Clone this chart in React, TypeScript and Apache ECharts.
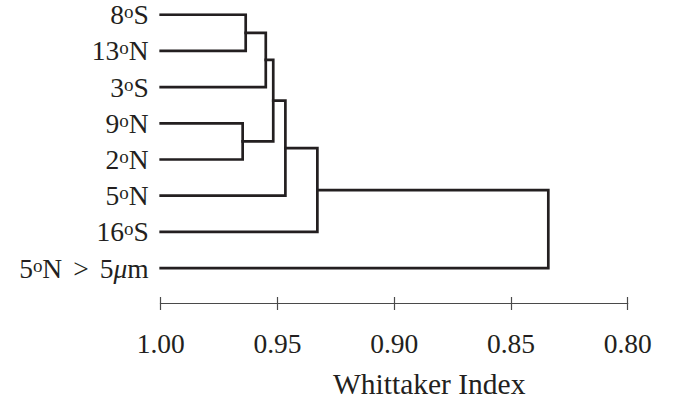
import React, { useEffect, useRef } from "react";
import * as echarts from "echarts";

// Leaves (top to bottom), rich-text labels
const leafLabels = [
  "8{o|o}S",
  "13{o|o}N",
  "3{o|o}S",
  "9{o|o}N",
  "2{o|o}N",
  "5{o|o}N",
  "16{o|o}S",
  "5{o|o}N{gt|>}5{mu|μ}m",
];

// Merges: node ids 0-7 are leaves, merge k becomes node 8+k
const mergeLeft = [0, 8, 3, 9, 11, 12, 13];
const mergeRight = [1, 2, 4, 10, 5, 6, 7];
const mergeHeight = [0.9636, 0.955, 0.9649, 0.9518, 0.9466, 0.9329, 0.834];

const xTicks = [0.8, 0.85, 0.9, 0.95, 1.0];

const ink = "#231f20";
const font = "'Liberation Serif', 'Times New Roman', serif";

export default function App() {
  const ref = useRef<HTMLDivElement>(null);

  useEffect(() => {
    if (!ref.current) return;
    const chart = echarts.init(ref.current, undefined, { renderer: "svg" });

    const nodeY: number[] = leafLabels.map((_, i) => i);
    const nodeH: number[] = leafLabels.map(() => 1.0);
    const series: any[] = [];
    mergeLeft.forEach((l, k) => {
      const r = mergeRight[k];
      const h = mergeHeight[k];
      const yl = nodeY[l];
      const yr = nodeY[r];
      series.push({
        type: "line",
        data: [
          [nodeH[l], yl],
          [h, yl],
          [h, yr],
          [nodeH[r], yr],
        ],
        symbol: "none",
        silent: true,
        lineStyle: { color: ink, width: 2.7, join: "miter", cap: "square" },
      });
      nodeY.push((yl + yr) / 2);
      nodeH.push(h);
    });

    const gridTop = 14.7;
    const axisY = 304;
    const axisColor = "#4a4a4a";

    const baseX = {
      type: "value",
      min: 0.8,
      max: 1.0,
      interval: 0.05,
      inverse: true,
      position: "bottom",
      splitLine: { show: false },
    };

    chart.setOption({
      animation: false,
      backgroundColor: "#ffffff",
      textStyle: { fontFamily: font },
      grid: [
        { left: 160.7, right: 48.3, top: gridTop, bottom: 404 - axisY },
        { left: 160.7, right: 48.3, top: axisY - 1, bottom: 404 - axisY },
      ],
      xAxis: [
        {
          ...baseX,
          gridIndex: 0,
          axisLine: { show: true, onZero: false, lineStyle: { color: axisColor, width: 1.2 } },
          axisTick: { show: true, length: 7, lineStyle: { color: axisColor, width: 1.2 } },
          axisLabel: {
            show: true,
            margin: 26,
            fontSize: 27.5,
            fontFamily: font,
            color: ink,
            formatter: (v: number) => {
              const t = xTicks.find((x) => Math.abs(x - v) < 1e-6);
              return t !== undefined ? t.toFixed(2) : "";
            },
          },
          name: "Whittaker Index",
          nameLocation: "middle",
          nameGap: 66,
          nameTextStyle: { fontSize: 29.5, fontFamily: font, color: ink, padding: [0, 0, 0, 70] },
        },
        {
          ...baseX,
          gridIndex: 1,
          axisLine: { show: false, onZero: false },
          axisTick: { show: true, inside: true, length: 7, lineStyle: { color: axisColor, width: 1.2 } },
          axisLabel: { show: false },
        },
      ],
      yAxis: [
        {
          type: "value",
          gridIndex: 0,
          min: 0,
          max: 7.963,
          interval: 1,
          inverse: true,
          axisLine: { show: false, onZero: false },
          axisTick: { show: false },
          splitLine: { show: false },
          axisLabel: {
            show: true,
            margin: 12,
            fontSize: 27.5,
            fontFamily: font,
            color: ink,
            formatter: (v: number) => leafLabels[Math.round(v)] ?? "",
            rich: {
              o: { fontSize: 19, fontFamily: font, color: ink, verticalAlign: "middle", padding: [0, 0, 6, 0] },
              gt: { fontSize: 27.5, fontFamily: font, color: ink, padding: [0, 11, 0, 11] },
              mu: { fontSize: 27.5, fontFamily: font, color: ink, fontStyle: "italic" },
            },
          },
        },
        {
          type: "value",
          gridIndex: 1,
          show: false,
          min: 0,
          max: 1,
        },
      ],
      series,
    });

    return () => chart.dispose();
  }, []);

  return (
    <div
      ref={ref}
      style={{ position: "fixed", left: 0, top: 0, width: 676, height: 404, background: "#fff" }}
    />
  );
}
